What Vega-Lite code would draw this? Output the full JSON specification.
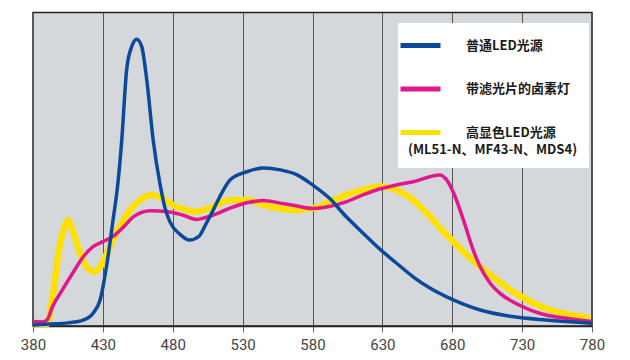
{
  "$schema": "https://vega.github.io/schema/vega-lite/v6.json",
  "autosize": "none",
  "width": 559,
  "height": 313.5,
  "padding": {"left": 33, "top": 12.5, "right": 38, "bottom": 34},
  "background": "white",
  "config": {
    "view": {"fill": "#d5d8da", "stroke": "#222222", "strokeWidth": 1.5},
    "font": "Roboto"
  },
  "datasets": {
    "spec": [
      {"s": "普通LED光源", "nm": 380, "v": 0.3},
      {"s": "普通LED光源", "nm": 392, "v": 0.6},
      {"s": "普通LED光源", "nm": 405, "v": 1.0},
      {"s": "普通LED光源", "nm": 416, "v": 1.9},
      {"s": "普通LED光源", "nm": 423, "v": 4.1},
      {"s": "普通LED光源", "nm": 428, "v": 8.3},
      {"s": "普通LED光源", "nm": 433, "v": 20.1},
      {"s": "普通LED光源", "nm": 437, "v": 32.9},
      {"s": "普通LED光源", "nm": 441, "v": 46.6},
      {"s": "普通LED光源", "nm": 443.5, "v": 59.3},
      {"s": "普通LED光源", "nm": 447, "v": 81.7},
      {"s": "普通LED光源", "nm": 450.6, "v": 89.1},
      {"s": "普通LED光源", "nm": 454.2, "v": 91.5},
      {"s": "普通LED光源", "nm": 457.8, "v": 89.1},
      {"s": "普通LED光源", "nm": 461.4, "v": 78.5},
      {"s": "普通LED光源", "nm": 466, "v": 59.3},
      {"s": "普通LED光源", "nm": 471, "v": 45.0},
      {"s": "普通LED光源", "nm": 474.5, "v": 37.6},
      {"s": "普通LED光源", "nm": 478, "v": 33.2},
      {"s": "普通LED光源", "nm": 485, "v": 29.3},
      {"s": "普通LED光源", "nm": 492, "v": 27.4},
      {"s": "普通LED光源", "nm": 499, "v": 28.7},
      {"s": "普通LED光源", "nm": 503, "v": 31.9},
      {"s": "普通LED光源", "nm": 509, "v": 37.0},
      {"s": "普通LED光源", "nm": 515, "v": 42.4},
      {"s": "普通LED光源", "nm": 521, "v": 46.6},
      {"s": "普通LED光源", "nm": 533, "v": 49.2},
      {"s": "普通LED光源", "nm": 545, "v": 50.4},
      {"s": "普通LED光源", "nm": 557, "v": 49.8},
      {"s": "普通LED光源", "nm": 569, "v": 48.2},
      {"s": "普通LED光源", "nm": 580, "v": 45.0},
      {"s": "普通LED光源", "nm": 592, "v": 40.8},
      {"s": "普通LED光源", "nm": 604, "v": 34.9},
      {"s": "普通LED光源", "nm": 616, "v": 29.7},
      {"s": "普通LED光源", "nm": 628, "v": 24.6},
      {"s": "普通LED光源", "nm": 640, "v": 20.1},
      {"s": "普通LED光源", "nm": 652, "v": 15.7},
      {"s": "普通LED光源", "nm": 664, "v": 12.1},
      {"s": "普通LED光源", "nm": 676, "v": 9.3},
      {"s": "普通LED光源", "nm": 688, "v": 7.0},
      {"s": "普通LED光源", "nm": 700, "v": 5.1},
      {"s": "普通LED光源", "nm": 723, "v": 3.0},
      {"s": "普通LED光源", "nm": 747, "v": 1.9},
      {"s": "普通LED光源", "nm": 780, "v": 0.9},

      {"s": "带滤光片的卤素灯", "nm": 380, "v": 1.4},
      {"s": "带滤光片的卤素灯", "nm": 387, "v": 1.3},
      {"s": "带滤光片的卤素灯", "nm": 390, "v": 1.9},
      {"s": "带滤光片的卤素灯", "nm": 394, "v": 6.2},
      {"s": "带滤光片的卤素灯", "nm": 401, "v": 11.5},
      {"s": "带滤光片的卤素灯", "nm": 409, "v": 17.3},
      {"s": "带滤光片的卤素灯", "nm": 416, "v": 22.1},
      {"s": "带滤光片的卤素灯", "nm": 423, "v": 25.3},
      {"s": "带滤光片的卤素灯", "nm": 430, "v": 26.9},
      {"s": "带滤光片的卤素灯", "nm": 437, "v": 28.5},
      {"s": "带滤光片的卤素灯", "nm": 445, "v": 31.7},
      {"s": "带滤光片的卤素灯", "nm": 452, "v": 34.9},
      {"s": "带滤光片的卤素灯", "nm": 464, "v": 36.8},
      {"s": "带滤光片的卤素灯", "nm": 476, "v": 36.5},
      {"s": "带滤光片的卤素灯", "nm": 487, "v": 35.4},
      {"s": "带滤光片的卤素灯", "nm": 497, "v": 34.0},
      {"s": "带滤光片的卤素灯", "nm": 509, "v": 35.4},
      {"s": "带滤光片的卤素灯", "nm": 521, "v": 37.6},
      {"s": "带滤光片的卤素灯", "nm": 533, "v": 39.3},
      {"s": "带滤光片的卤素灯", "nm": 545, "v": 40.0},
      {"s": "带滤光片的卤素灯", "nm": 557, "v": 39.2},
      {"s": "带滤光片的卤素灯", "nm": 569, "v": 38.3},
      {"s": "带滤光片的卤素灯", "nm": 580, "v": 37.5},
      {"s": "带滤光片的卤素灯", "nm": 592, "v": 38.1},
      {"s": "带滤光片的卤素灯", "nm": 604, "v": 39.6},
      {"s": "带滤光片的卤素灯", "nm": 616, "v": 41.8},
      {"s": "带滤光片的卤素灯", "nm": 628, "v": 43.7},
      {"s": "带滤光片的卤素灯", "nm": 640, "v": 45.0},
      {"s": "带滤光片的卤素灯", "nm": 652, "v": 46.0},
      {"s": "带滤光片的卤素灯", "nm": 664, "v": 47.6},
      {"s": "带滤光片的卤素灯", "nm": 671, "v": 48.2},
      {"s": "带滤光片的卤素灯", "nm": 676, "v": 46.6},
      {"s": "带滤光片的卤素灯", "nm": 681, "v": 42.4},
      {"s": "带滤光片的卤素灯", "nm": 688, "v": 33.8},
      {"s": "带滤光片的卤素灯", "nm": 695, "v": 24.2},
      {"s": "带滤光片的卤素灯", "nm": 700, "v": 18.9},
      {"s": "带滤光片的卤素灯", "nm": 707, "v": 13.7},
      {"s": "带滤光片的卤素灯", "nm": 714, "v": 10.5},
      {"s": "带滤光片的卤素灯", "nm": 723, "v": 7.8},
      {"s": "带滤光片的卤素灯", "nm": 736, "v": 5.1},
      {"s": "带滤光片的卤素灯", "nm": 747, "v": 3.5},
      {"s": "带滤光片的卤素灯", "nm": 759, "v": 2.6},
      {"s": "带滤光片的卤素灯", "nm": 780, "v": 1.4},

      {"s": "高显色LED光源", "nm": 380, "v": 0.6},
      {"s": "高显色LED光源", "nm": 390, "v": 0.6},
      {"s": "高显色LED光源", "nm": 394, "v": 9.3},
      {"s": "高显色LED光源", "nm": 399, "v": 25.3},
      {"s": "高显色LED光源", "nm": 403, "v": 32.2},
      {"s": "高显色LED光源", "nm": 405, "v": 33.8},
      {"s": "高显色LED光源", "nm": 409, "v": 29.7},
      {"s": "高显色LED光源", "nm": 413.6, "v": 23.3},
      {"s": "高显色LED光源", "nm": 419, "v": 18.5},
      {"s": "高显色LED光源", "nm": 424, "v": 17.3},
      {"s": "高显色LED光源", "nm": 429, "v": 19.5},
      {"s": "高显色LED光源", "nm": 435, "v": 25.3},
      {"s": "高显色LED光源", "nm": 442, "v": 31.7},
      {"s": "高显色LED光源", "nm": 449.6, "v": 37.0},
      {"s": "高显色LED光源", "nm": 456.6, "v": 40.2},
      {"s": "高显色LED光源", "nm": 465, "v": 41.8},
      {"s": "高显色LED光源", "nm": 473, "v": 40.7},
      {"s": "高显色LED光源", "nm": 480, "v": 38.6},
      {"s": "高显色LED光源", "nm": 490, "v": 37.0},
      {"s": "高显色LED光源", "nm": 497, "v": 36.5},
      {"s": "高显色LED光源", "nm": 509, "v": 38.1},
      {"s": "高显色LED光源", "nm": 521, "v": 40.2},
      {"s": "高显色LED光源", "nm": 533, "v": 40.2},
      {"s": "高显色LED光源", "nm": 545, "v": 38.6},
      {"s": "高显色LED光源", "nm": 557, "v": 37.5},
      {"s": "高显色LED光源", "nm": 569, "v": 37.0},
      {"s": "高显色LED光源", "nm": 580, "v": 37.5},
      {"s": "高显色LED光源", "nm": 592, "v": 39.6},
      {"s": "高显色LED光源", "nm": 604, "v": 41.8},
      {"s": "高显色LED光源", "nm": 616, "v": 43.4},
      {"s": "高显色LED光源", "nm": 628, "v": 44.5},
      {"s": "高显色LED光源", "nm": 640, "v": 43.4},
      {"s": "高显色LED光源", "nm": 652, "v": 40.2},
      {"s": "高显色LED光源", "nm": 664, "v": 34.9},
      {"s": "高显色LED光源", "nm": 676, "v": 29.0},
      {"s": "高显色LED光源", "nm": 688, "v": 23.7},
      {"s": "高显色LED光源", "nm": 700, "v": 18.9},
      {"s": "高显色LED光源", "nm": 712, "v": 14.7},
      {"s": "高显色LED光源", "nm": 723.5, "v": 10.9},
      {"s": "高显色LED光源", "nm": 736, "v": 7.8},
      {"s": "高显色LED光源", "nm": 747, "v": 5.6},
      {"s": "高显色LED光源", "nm": 759, "v": 4.1},
      {"s": "高显色LED光源", "nm": 779, "v": 2.5}
    ]
  },
  "data": {"name": "spec"},
  "encoding": {
    "x": {
      "field": "nm", "type": "quantitative",
      "scale": {"domain": [380, 780], "nice": false, "zero": false},
      "axis": {
        "title": null, "values": [380, 430, 480, 530, 580, 630, 680, 730, 780],
        "grid": true, "gridColor": "#555555", "gridWidth": 1, "gridOpacity": 1,
        "domainColor": "#222222", "domainWidth": 1.5,
        "tickColor": "#666666", "tickSize": 6, "tickWidth": 1,
        "labelFont": "Roboto", "labelFontSize": 15, "labelColor": "#444444",
        "labelPadding": 5, "labelFlush": false
      }
    },
    "y": {
      "field": "v", "type": "quantitative",
      "scale": {"domain": [0, 100], "nice": false},
      "axis": null
    },
    "color": {
      "field": "s", "type": "nominal",
      "scale": {
        "domain": ["普通LED光源", "带滤光片的卤素灯", "高显色LED光源"],
        "range": ["#0b4a9b", "#e0188a", "#ffe000"]
      },
      "title": "(ML51-N、MF43-N、MDS4)",
      "legend": {
        "orient": "none", "legendX": 365, "legendY": 10.5,
        "fillColor": "white", "strokeColor": "white", "padding": 10,
        "symbolType": "M-2,0L2,0", "symbolSize": 400, "symbolStrokeWidth": 5,
        "labelFont": "Noto Sans CJK SC", "labelFontWeight": "bold", "labelFontSize": 13, "labelColor": "#1a1a1a",
        "labelOffset": 33, "labelLimit": 250, "rowPadding": 20.5,
        "titleOrient": "bottom", "titleAnchor": "start", "titlePadding": 1,
        "titleFont": "Noto Sans CJK SC", "titleFontWeight": "bold", "titleFontSize": 13, "titleColor": "#1a1a1a", "titleLimit": 300
      }
    }
  },
  "layer": [
    {"transform": [{"filter": "datum.s === '高显色LED光源'"}], "mark": {"type": "line", "interpolate": "monotone", "strokeWidth": 6.5}},
    {"transform": [{"filter": "datum.s === '带滤光片的卤素灯'"}], "mark": {"type": "line", "interpolate": "monotone", "strokeWidth": 3.5}},
    {"transform": [{"filter": "datum.s === '普通LED光源'"}], "mark": {"type": "line", "interpolate": "monotone", "strokeWidth": 3.5}}
  ]
}
